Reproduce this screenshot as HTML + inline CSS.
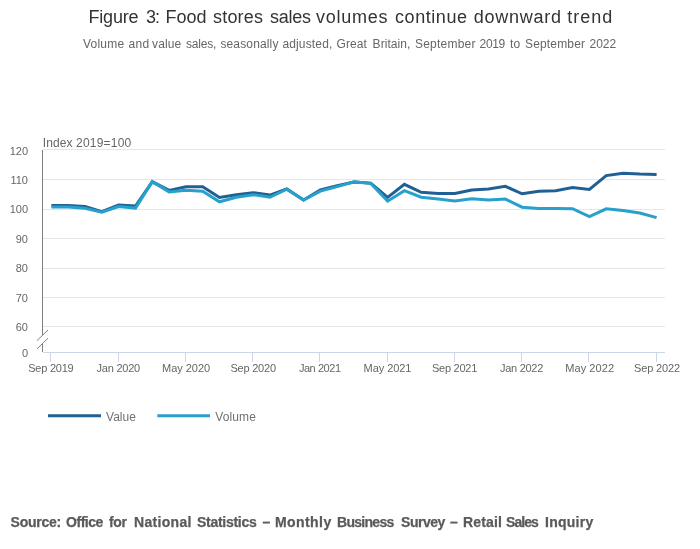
<!DOCTYPE html>
<html lang="en">
<head>
<meta charset="utf-8">
<title>Figure 3: Food stores sales volumes continue downward trend</title>
<style>
html,body{margin:0;padding:0;background:#fff;}
body{width:700px;height:549px;overflow:hidden;font-family:"Liberation Sans",sans-serif;}
svg{display:block;will-change:transform;}
svg text{font-family:"Liberation Sans",sans-serif;}
.t{font-size:18px;fill:#333;}
.st{font-size:12px;fill:#666;}
.al{font-size:11px;fill:#666;}
.yt{font-size:12px;fill:#666;}
.lg{font-size:12px;fill:#707070;}
.src{font-size:14px;font-weight:bold;fill:#5a5a5a;stroke:#5a5a5a;stroke-width:0.25px;}
</style>
</head>
<body>
<svg width="700" height="549" viewBox="0 0 700 549">
<rect width="700" height="549" fill="#ffffff"/>

<text class="t" x="88.40" y="23.4" letter-spacing="-0.162">Figure</text>
<text class="t" x="146.00" y="23.4" letter-spacing="-1.011">3:</text>
<text class="t" x="165.60" y="23.4" letter-spacing="-0.006">Food</text>
<text class="t" x="213.00" y="23.4" letter-spacing="0.197">stores</text>
<text class="t" x="270.00" y="23.4" letter-spacing="-0.255">sales</text>
<text class="t" x="316.00" y="23.4" letter-spacing="0.762">volumes</text>
<text class="t" x="395.00" y="23.4" letter-spacing="0.565">continue</text>
<text class="t" x="473.70" y="23.4" letter-spacing="0.738">downward</text>
<text class="t" x="567.20" y="23.4" letter-spacing="1.021">trend</text>
<text class="st" x="83.00" y="48" letter-spacing="0.210">Volume</text>
<text class="st" x="128.40" y="48" letter-spacing="0.326">and</text>
<text class="st" x="152.00" y="48" letter-spacing="0.147">value</text>
<text class="st" x="186.00" y="48" letter-spacing="-0.203">sales,</text>
<text class="st" x="220.40" y="48" letter-spacing="0.144">seasonally</text>
<text class="st" x="282.40" y="48" letter-spacing="0.154">adjusted,</text>
<text class="st" x="336.60" y="48" letter-spacing="0.081">Great</text>
<text class="st" x="372.60" y="48" letter-spacing="0.055">Britain,</text>
<text class="st" x="415.00" y="48" letter-spacing="0.212">September</text>
<text class="st" x="479.60" y="48" letter-spacing="-0.340">2019</text>
<text class="st" x="510.00" y="48" letter-spacing="0.066">to</text>
<text class="st" x="525.00" y="48" letter-spacing="0.162">September</text>
<text class="st" x="589.60" y="48" letter-spacing="-0.074">2022</text>
<text class="yt" x="42.80" y="147" letter-spacing="0.086">Index</text>
<text class="yt" x="76.00" y="147" letter-spacing="0.221">2019=100</text>
<g shape-rendering="crispEdges">
<rect x="43" y="149" width="622" height="1" fill="#e6e6e6"/>
<rect x="43" y="179" width="622" height="1" fill="#e6e6e6"/>
<rect x="43" y="209" width="622" height="1" fill="#e6e6e6"/>
<rect x="43" y="238" width="622" height="1" fill="#e6e6e6"/>
<rect x="43" y="268" width="622" height="1" fill="#e6e6e6"/>
<rect x="43" y="297" width="622" height="1" fill="#e6e6e6"/>
<rect x="43" y="326" width="622" height="1" fill="#e6e6e6"/>
<rect x="43" y="352" width="622" height="1" fill="#ccd6eb"/>
<rect x="50" y="352" width="1" height="10" fill="#ccd6eb"/>
<rect x="118" y="352" width="1" height="10" fill="#ccd6eb"/>
<rect x="185" y="352" width="1" height="10" fill="#ccd6eb"/>
<rect x="252" y="352" width="1" height="10" fill="#ccd6eb"/>
<rect x="319" y="352" width="1" height="10" fill="#ccd6eb"/>
<rect x="387" y="352" width="1" height="10" fill="#ccd6eb"/>
<rect x="454" y="352" width="1" height="10" fill="#ccd6eb"/>
<rect x="521" y="352" width="1" height="10" fill="#ccd6eb"/>
<rect x="588" y="352" width="1" height="10" fill="#ccd6eb"/>
<rect x="656" y="352" width="1" height="10" fill="#ccd6eb"/>
<rect x="42" y="150" width="1" height="185" fill="#7f7f7f"/>
<rect x="42" y="343" width="1" height="9" fill="#7f7f7f"/>
</g>
<path d="M37 340.6 L48 330 M37 348.8 L48 338.2" stroke="#7f7f7f" stroke-width="1" fill="none"/>
<text class="al" x="28" y="155" text-anchor="end">120</text>
<text class="al" x="28" y="184" text-anchor="end">110</text>
<text class="al" x="28" y="213" text-anchor="end">100</text>
<text class="al" x="28" y="242.5" text-anchor="end">90</text>
<text class="al" x="28" y="272" text-anchor="end">80</text>
<text class="al" x="28" y="301.5" text-anchor="end">70</text>
<text class="al" x="28" y="330.8" text-anchor="end">60</text>
<text class="al" x="28" y="356.5" text-anchor="end">0</text>
<text class="al" x="28.20" y="372" letter-spacing="-0.226">Sep 2019</text>
<text class="al" x="96.60" y="372" letter-spacing="-0.249">Jan 2020</text>
<text class="al" x="162.00" y="372" letter-spacing="-0.027">May 2020</text>
<text class="al" x="230.50" y="372" letter-spacing="-0.226">Sep 2020</text>
<text class="al" x="298.90" y="372" letter-spacing="-0.449">Jan 2021</text>
<text class="al" x="363.60" y="372" letter-spacing="-0.070">May 2021</text>
<text class="al" x="432.00" y="372" letter-spacing="-0.254">Sep 2021</text>
<text class="al" x="500.00" y="372" letter-spacing="-0.278">Jan 2022</text>
<text class="al" x="565.20" y="372" letter-spacing="0.087">May 2022</text>
<text class="al" x="634.00" y="372" letter-spacing="-0.140">Sep 2022</text>
<polyline points="51.4,205.6 68.2,205.6 85.0,206.6 101.8,211.6 118.6,204.9 135.5,206.0 152.3,181.8 169.1,190.4 185.9,186.7 202.7,186.7 219.5,197.4 236.3,194.8 253.1,192.7 269.9,195.1 286.8,188.9 303.6,200.0 320.4,190.0 337.2,185.6 354.0,182.0 370.8,183.1 387.6,197.4 404.4,184.3 421.2,192.3 438.1,193.4 454.9,193.4 471.7,190.0 488.5,188.9 505.3,186.3 522.1,193.8 538.9,191.3 555.7,190.7 572.5,187.6 589.4,189.5 606.2,175.6 623.0,173.3 639.8,174.1 656.6,174.5" fill="none" stroke="#206095" stroke-width="3" stroke-linejoin="miter" stroke-miterlimit="10" stroke-linecap="butt"/>
<polyline points="51.4,206.9 68.2,207.0 85.0,208.2 101.8,212.2 118.6,206.6 135.5,208.1 152.3,181.6 169.1,191.9 185.9,190.2 202.7,191.2 219.5,201.8 236.3,197.3 253.1,194.7 269.9,197.3 286.8,189.2 303.6,200.1 320.4,191.1 337.2,186.6 354.0,181.8 370.8,183.5 387.6,201.2 404.4,190.7 421.2,197.2 438.1,199.1 454.9,200.9 471.7,198.8 488.5,199.9 505.3,199.1 522.1,207.2 538.9,208.4 555.7,208.4 572.5,208.7 589.4,216.5 606.2,208.8 623.0,210.4 639.8,213.0 656.6,217.6" fill="none" stroke="#27a0cc" stroke-width="3" stroke-linejoin="miter" stroke-miterlimit="10" stroke-linecap="butt"/>
<path d="M48 415.8 H101" stroke="#206095" stroke-width="3" fill="none"/>
<text class="lg" x="106.00" y="420.8" letter-spacing="0.018">Value</text>
<path d="M157.3 415.8 H210" stroke="#27a0cc" stroke-width="3" fill="none"/>
<text class="lg" x="215.20" y="420.8" letter-spacing="0.130">Volume</text>
<text class="src" x="10.60" y="527" letter-spacing="-0.277">Source:</text>
<text class="src" x="66.00" y="527" letter-spacing="-0.458">Office</text>
<text class="src" x="109.00" y="527" letter-spacing="-0.407">for</text>
<text class="src" x="134.00" y="527" letter-spacing="0.323">National</text>
<text class="src" x="197.00" y="527" letter-spacing="-0.274">Statistics</text>
<text class="src" x="262.40" y="527" letter-spacing="0.000">–</text>
<text class="src" x="275.00" y="527" letter-spacing="0.422">Monthly</text>
<text class="src" x="337.00" y="527" letter-spacing="-0.709">Business</text>
<text class="src" x="401.00" y="527" letter-spacing="-0.462">Survey</text>
<text class="src" x="450.00" y="527" letter-spacing="0.000">–</text>
<text class="src" x="463.00" y="527" letter-spacing="0.153">Retail</text>
<text class="src" x="506.00" y="527" letter-spacing="-0.950">Sales</text>
<text class="src" x="545.00" y="527" letter-spacing="0.253">Inquiry</text>
</svg>
</body>
</html>
